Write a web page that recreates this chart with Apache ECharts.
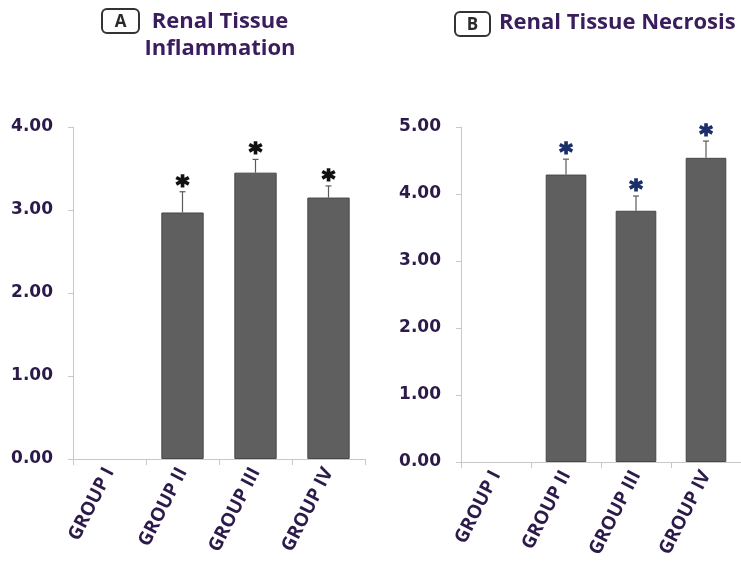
<!DOCTYPE html>
<html>
<head>
<meta charset="utf-8">
<script src="https://cdn.jsdelivr.net/npm/echarts@6/dist/echarts.min.js"></script>
<style>
  html, body { margin: 0; padding: 0; background: #ffffff; }
  #chart { width: 741px; height: 563px; }
</style>
</head>
<body>
<div id="chart"></div>
<script>
// Treatment groups shared by both panels
const groups = ['GROUP I', 'GROUP II', 'GROUP III', 'GROUP IV'];

// Panel A: renal tissue inflammation score (mean and upper SE)
const inflammationMean = [0, 2.97, 3.45, 3.15];
const inflammationErr = [0, 0.25, 0.16, 0.14];
const inflammationMarks = ['', '*', '*', '*'];

// Panel B: renal tissue necrosis score (mean and upper SE)
const necrosisMean = [0, 4.29, 3.75, 4.54];
const necrosisErr = [0, 0.23, 0.22, 0.25];
const necrosisMarks = ['', '*', '*', '*'];

// Axis ranges and tick steps
const inflammationAxis = { min: 0, max: 4, step: 1 };
const necrosisAxis = { min: 0, max: 5, step: 1 };

const labelColor = '#2b1a4a';
const titleColor = '#3a1d5c';
const axisGrey = '#c8c8c8';
const barGrey = '#5f5f5f';

function valueAxis(gridIndex, range) {
  return {
    type: 'value',
    gridIndex: gridIndex,
    min: range.min,
    max: range.max,
    interval: range.step,
    splitLine: { show: false },
    axisLine: { show: true, lineStyle: { color: axisGrey, width: 1 } },
    axisTick: { show: true, length: 5, lineStyle: { color: axisGrey } },
    axisLabel: {
      margin: 20,
      color: labelColor,
      fontFamily: 'DejaVu Sans',
      fontWeight: 'bold',
      fontSize: 17,
      formatter: v => v.toFixed(2)
    }
  };
}

function categoryAxis(gridIndex) {
  return {
    type: 'category',
    gridIndex: gridIndex,
    data: groups,
    axisLine: { show: true, lineStyle: { color: axisGrey, width: 1 } },
    axisTick: { show: true, length: 6, alignWithLabel: false, lineStyle: { color: axisGrey } },
    axisLabel: {
      rotate: 63,
      margin: 10,
      color: labelColor,
      fontFamily: 'Open Sans',
      fontWeight: 'bold',
      fontSize: 19,
      interval: 0
    }
  };
}

function barSeries(idx, values) {
  // Empty groups get no outline so nothing shows at zero
  const data = values.map(v => ({
    value: v,
    itemStyle: v > 0 ? { borderColor: '#474747', borderWidth: 1 } : { borderWidth: 0 }
  }));
  return {
    type: 'bar',
    xAxisIndex: idx,
    yAxisIndex: idx,
    data: data,
    barWidth: '58%',
    itemStyle: { color: barGrey },
    silent: true,
    z: 2
  };
}

// Upper error whisker with cap, plus significance mark above it
function errorSeries(idx, values, errs, marks, markColor) {
  const data = values.map((v, i) => [i, v, errs[i], marks[i]]);
  return {
    type: 'custom',
    xAxisIndex: idx,
    yAxisIndex: idx,
    data: data,
    encode: { x: 0, y: 1 },
    silent: true,
    z: 3,
    renderItem: function (params, api) {
      const i = api.value(0);
      const v = api.value(1);
      const e = api.value(2);
      const mark = data[params.dataIndex][3];
      if (!mark) return { type: 'group', children: [] };
      const base = api.coord([i, v]);
      const top = api.coord([i, v + e]);
      const stroke = { stroke: '#5a5a5a', lineWidth: 1.2 };
      return {
        type: 'group',
        children: [
          { type: 'line', shape: { x1: top[0], y1: base[1], x2: top[0], y2: top[1] }, style: stroke },
          { type: 'line', shape: { x1: top[0] - 3, y1: top[1], x2: top[0] + 3, y2: top[1] }, style: stroke },
          {
            type: 'text',
            x: top[0],
            y: top[1] + 7,
            style: {
              text: mark,
              fill: markColor,
              stroke: markColor,
              lineWidth: 1.6,
              font: 'bold 25px "DejaVu Sans"',
              align: 'center',
              verticalAlign: 'bottom'
            }
          }
        ]
      };
    }
  };
}

function panelTag(letter, x, y, w, h) {
  return [
    {
      type: 'rect',
      shape: { x: x, y: y, width: w, height: h, r: 5 },
      style: { fill: '#ffffff', stroke: '#333333', lineWidth: 2 }
    },
    {
      type: 'text',
      x: x + w / 2,
      y: y + h / 2 + 1,
      style: {
        text: letter,
        fill: '#2a2a2a',
        font: 'bold 17px "Open Sans"',
        align: 'center',
        verticalAlign: 'middle'
      }
    }
  ];
}

const chart = echarts.init(document.getElementById('chart'), null, { renderer: 'canvas' });

chart.setOption({
  backgroundColor: '#ffffff',
  animation: false,
  grid: [
    { left: 73, right: 376, top: 127, bottom: 104 },
    { left: 461, right: -9, top: 127, bottom: 101 }
  ],
  xAxis: [categoryAxis(0), categoryAxis(1)],
  yAxis: [valueAxis(0, inflammationAxis), valueAxis(1, necrosisAxis)],
  series: [
    barSeries(0, inflammationMean),
    errorSeries(0, inflammationMean, inflammationErr, inflammationMarks, '#111111'),
    barSeries(1, necrosisMean),
    errorSeries(1, necrosisMean, necrosisErr, necrosisMarks, '#1b2f6b')
  ],
  graphic: [
    ...panelTag('A', 102, 9, 37, 24),
    {
      type: 'text',
      x: 220,
      y: 35,
      style: {
        text: 'Renal Tissue\nInflammation',
        fill: titleColor,
        font: 'bold 22px "Open Sans"',
        lineHeight: 27,
        align: 'center',
        verticalAlign: 'middle'
      }
    },
    ...panelTag('B', 455, 12, 35, 24),
    {
      type: 'text',
      x: 499,
      y: 23,
      style: {
        text: 'Renal Tissue Necrosis',
        fill: titleColor,
        font: 'bold 22px "Open Sans"',
        align: 'left',
        verticalAlign: 'middle'
      }
    }
  ]
});
</script>
</body>
</html>
